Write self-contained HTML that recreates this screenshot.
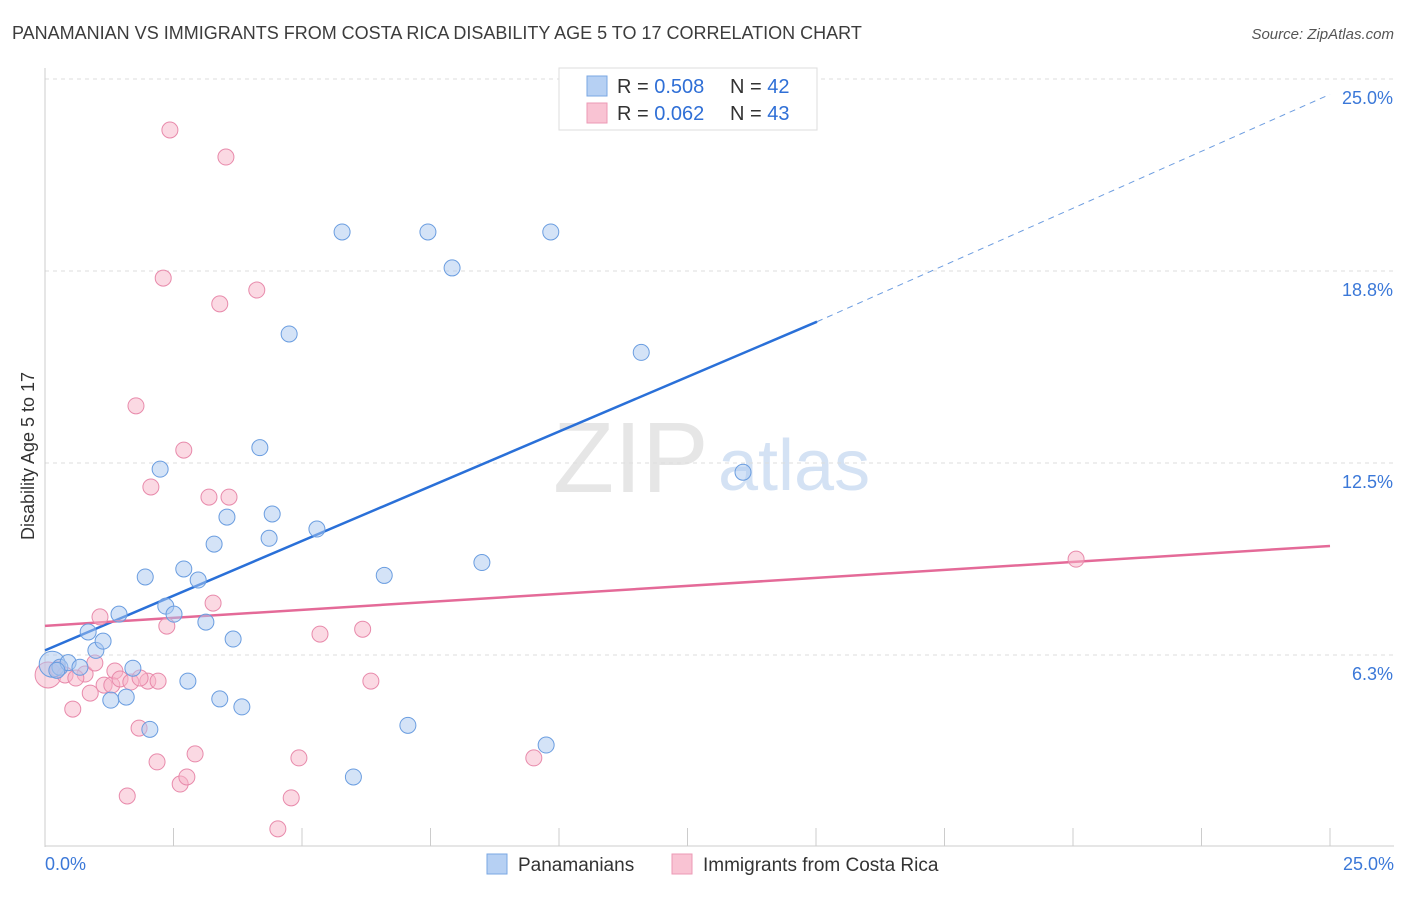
<!DOCTYPE html>
<html><head><meta charset="utf-8"><style>
body{margin:0;background:#fff;font-family:"Liberation Sans",sans-serif;}
svg text{font-family:"Liberation Sans",sans-serif;}
</style></head><body>
<svg id="chart" width="1406" height="892" xmlns="http://www.w3.org/2000/svg">
<text x="12" y="39" font-size="18" fill="#3c3c3c">PANAMANIAN VS IMMIGRANTS FROM COSTA RICA DISABILITY AGE 5 TO 17 CORRELATION CHART</text>
<text x="1394" y="39" font-size="15" fill="#555" text-anchor="end" font-style="italic">Source: ZipAtlas.com</text>
<text x="553" y="492" font-size="100" fill="#e6e6e6" font-family="Liberation Serif">ZIP</text>
<text x="718" y="490" font-size="72" fill="#d4e2f4">atlas</text>
<text transform="translate(34,456) rotate(-90)" font-size="18" fill="#333" text-anchor="middle">Disability Age 5 to 17</text>
<g id="grid"></g><g id="ticks"></g>
<g id="lines"></g><g id="points"></g>
<g>
<rect x="559" y="68" width="258" height="62" fill="#fff" stroke="#ddd"/>
<rect x="587" y="76" width="20" height="20" fill="#b6d0f3" stroke="#7aa7e3"/>
<rect x="587" y="103" width="20" height="20" fill="#f9c3d3" stroke="#ec9ab6"/>
<text x="617" y="93" font-size="20" fill="#333">R = <tspan fill="#2f6fd6">0.508</tspan></text>
<text x="730" y="93" font-size="20" fill="#333">N = <tspan fill="#2f6fd6">42</tspan></text>
<text x="617" y="120" font-size="20" fill="#333">R = <tspan fill="#2f6fd6">0.062</tspan></text>
<text x="730" y="120" font-size="20" fill="#333">N = <tspan fill="#2f6fd6">43</tspan></text>
</g>
<g>
<rect x="487" y="854" width="20" height="20" fill="#b6d0f3" stroke="#7aa7e3"/>
<text x="518" y="871" font-size="19" fill="#333">Panamanians</text>
<rect x="672" y="854" width="20" height="20" fill="#f9c3d3" stroke="#ec9ab6"/>
<text x="703" y="871" font-size="19" fill="#333">Immigrants from Costa Rica</text>
</g>
</svg>
<script>
const yTicks=[6.25,12.5,18.75,25];
const yTickLabels=["6.3%","12.5%","18.8%","25.0%"];
const bluePts=[[0.14,5.95],[0.29,5.85],[0.45,6.0],[0.68,5.85],[0.84,7.0],[0.99,6.4],[1.13,6.7],[1.28,4.78],[1.44,7.58],[1.58,4.88],[1.71,5.82],[1.95,8.79],[2.04,3.83],[2.24,12.3],[2.35,7.84],[2.51,7.58],[2.7,9.05],[2.78,5.4],[2.98,8.69],[3.13,7.32],[3.29,9.86],[3.4,4.82],[3.54,10.74],[3.66,6.77],[3.83,4.56],[4.18,13.0],[4.36,10.05],[4.42,10.84],[4.75,16.7],[5.29,10.35],[5.78,20.02],[6.0,2.28],[6.6,8.84],[7.06,3.96],[7.45,20.02],[7.92,18.85],[8.5,9.26],[9.75,3.32],[9.84,20.02],[11.6,16.1],[13.58,12.2],[0.23,5.75]];
const pinkPts=[[0.06,5.6],[0.25,5.79],[0.39,5.6],[0.54,4.49],[0.78,5.63],[0.88,5.01],[0.97,5.99],[1.07,7.49],[1.15,5.27],[1.3,5.27],[1.36,5.73],[1.46,5.47],[1.6,1.66],[1.67,5.37],[1.77,14.36],[1.83,3.87],[2.0,5.4],[2.06,11.72],[2.18,2.77],[2.3,18.52],[2.37,7.19],[2.43,23.34],[2.63,2.05],[2.7,12.92],[2.76,2.28],[2.92,3.03],[3.19,11.39],[3.27,7.94],[3.4,17.68],[3.52,22.46],[3.58,11.39],[4.12,18.13],[4.53,0.59],[4.79,1.6],[4.94,2.9],[5.35,6.93],[6.18,7.09],[6.34,5.4],[9.51,2.9],[20.06,9.37],[1.85,5.5],[2.2,5.4],[0.6,5.5]];
const blueLine=[[0,6.4],[15.02,17.1],[25,24.5]];
const pinkLine=[[0,7.2],[25,9.8]];
const NS="http://www.w3.org/2000/svg";
const X=v=>45+v*51.4, Y=v=>847-v*30.72;
function mk(t,a,p){const e=document.createElementNS(NS,t);for(const k in a)e.setAttribute(k,a[k]);p.appendChild(e);return e;}
const g=document.getElementById('grid'),tk=document.getElementById('ticks'),ln=document.getElementById('lines'),pt=document.getElementById('points');
yTicks.forEach((v,i)=>{
 const l=mk('line',{x1:45,x2:1394,y1:Y(v),y2:Y(v),stroke:'#ddd','stroke-dasharray':'4,4'},g);
 
 
 const t=mk('text',{x:1393,y:Y(v)+25,'font-size':18,fill:'#3b78d8','text-anchor':'end'},g);
 t.textContent=yTickLabels[i];
 
 
});
mk('line',{x1:45,x2:45,y1:68,y2:847,stroke:'#ccc'},tk);
mk('line',{x1:45,x2:1394,y1:846,y2:846,stroke:'#ccc'},tk);
for(let i=0;i<=10;i++){const l=mk('line',{x1:X(i*2.5),x2:X(i*2.5),y1:828,y2:846,stroke:'#ccc'},tk);
 
 }
const x0=mk('text',{x:45,y:870,'font-size':18,fill:'#3b78d8'},tk);x0.textContent='0.0%';


const x1=mk('text',{x:1394,y:870,'font-size':18,fill:'#3b78d8','text-anchor':'end'},tk);x1.textContent='25.0%';


function pts(arr,fill,stroke,name){arr.forEach((p,i)=>{const c=mk('circle',{cx:X(p[0]),cy:Y(p[1]),r:i==0?13:8,fill:fill,'fill-opacity':0.5,stroke:stroke,'stroke-width':1},pt);
 
 });}
pts(pinkPts,'#f7b3c8','#e88aab','pink-point');
pts(bluePts,'#a9c8f0','#6a9de0','blue-point');
const b1=mk('line',{x1:X(blueLine[0][0]),y1:Y(blueLine[0][1]),x2:X(blueLine[1][0]),y2:Y(blueLine[1][1]),stroke:'#2a70d8','stroke-width':2.5},ln);


const b2=mk('line',{x1:X(blueLine[1][0]),y1:Y(blueLine[1][1]),x2:X(blueLine[2][0]),y2:Y(blueLine[2][1]),stroke:'#6d9de0','stroke-width':1,'stroke-dasharray':'6,5'},ln);


const p1=mk('line',{x1:X(pinkLine[0][0]),y1:Y(pinkLine[0][1]),x2:X(pinkLine[1][0]),y2:Y(pinkLine[1][1]),stroke:'#e46a98','stroke-width':2.5},ln);


</script>
</body></html>
